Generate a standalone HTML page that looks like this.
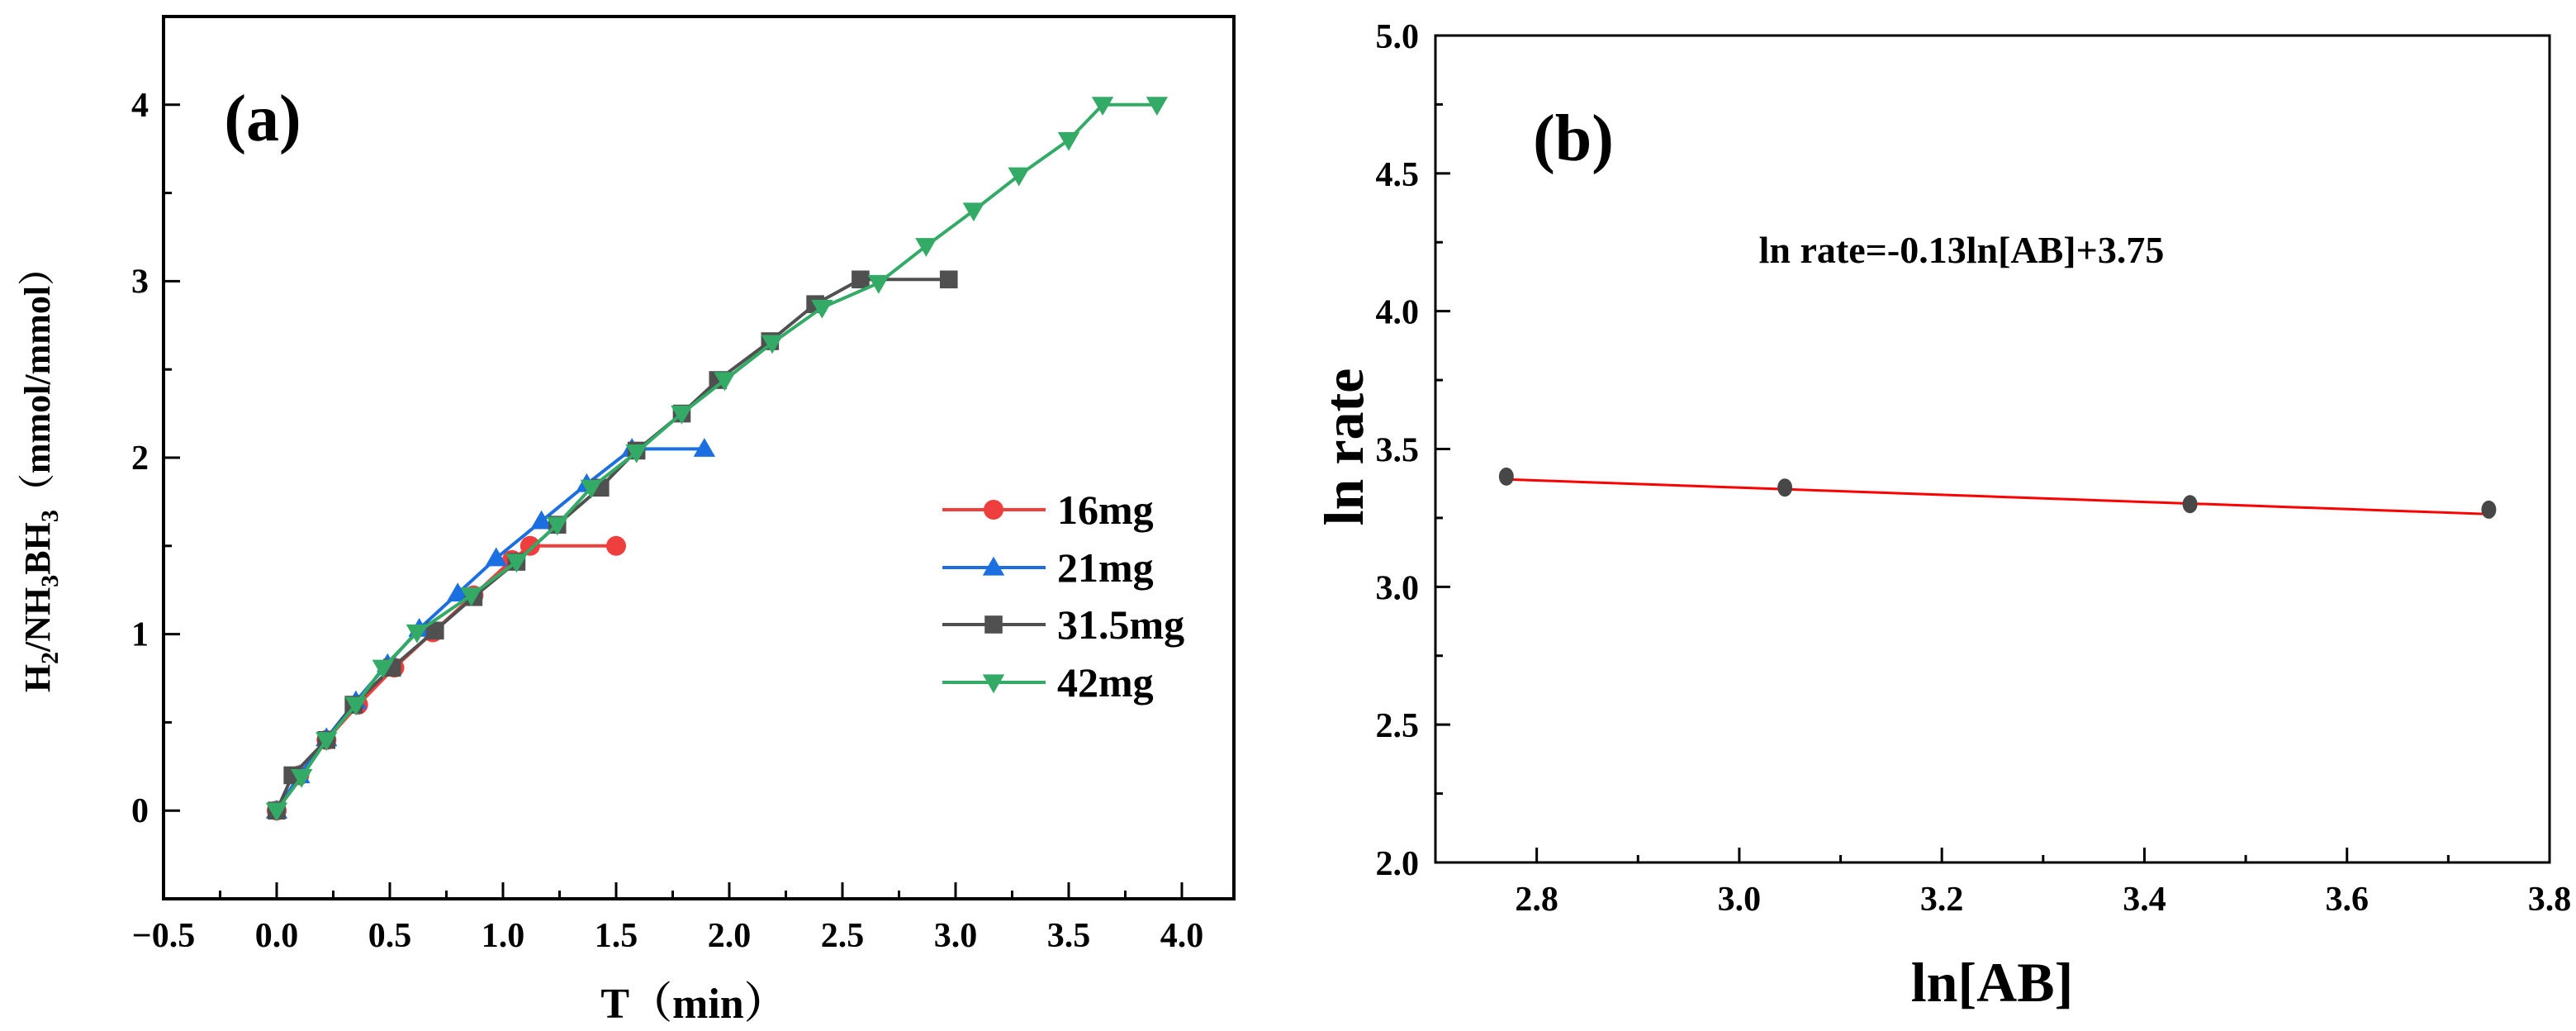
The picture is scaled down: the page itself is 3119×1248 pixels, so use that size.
<!DOCTYPE html>
<html><head><meta charset="utf-8"><style>
html,body{margin:0;padding:0;background:#fff;}
svg{display:block;}
text{font-family:"Liberation Serif","Noto Serif CJK SC",serif;font-weight:bold;fill:#000;}
</style></head><body>
<svg id="fig" width="3119" height="1248" viewBox="0 0 3119 1248" xmlns="http://www.w3.org/2000/svg"></svg>
<script>
// ---------- Panel (a) data ----------
const seriesNames = ["16mg","21mg","31.5mg","42mg"];
const seriesColors = ["#ef3e3e","#1c6fe0","#505050","#33aa66"];
const seriesMarkers = ["circle","up","square","down"];
const x16 = [0,0.10,0.22,0.36,0.52,0.69,0.87,1.04,1.12,1.50];
const y16 = [0,0.20,0.40,0.60,0.81,1.01,1.22,1.42,1.50,1.50];
const x21 = [0,0.10,0.22,0.35,0.49,0.63,0.80,0.97,1.17,1.37,1.57,1.89];
const y21 = [0,0.20,0.41,0.62,0.83,1.03,1.23,1.43,1.64,1.85,2.05,2.05];
const x315 = [0,0.07,0.22,0.34,0.51,0.70,0.87,1.06,1.24,1.43,1.59,1.79,1.95,2.18,2.38,2.58,2.97];
const y315 = [0,0.20,0.40,0.60,0.81,1.02,1.21,1.41,1.62,1.83,2.04,2.25,2.44,2.66,2.87,3.01,3.01];
const x42 = [0,0.11,0.22,0.35,0.47,0.62,0.86,1.06,1.24,1.39,1.59,1.79,1.98,2.19,2.41,2.66,2.87,3.08,3.28,3.50,3.65,3.89];
const y42 = [0,0.19,0.40,0.60,0.81,1.01,1.22,1.41,1.62,1.83,2.03,2.25,2.44,2.65,2.85,2.99,3.20,3.40,3.60,3.80,4.00,4.00];
const aXTicks = [-0.5,0,0.5,1,1.5,2,2.5,3,3.5,4];
const aXTickLabels = ["\u22120.5","0.0","0.5","1.0","1.5","2.0","2.5","3.0","3.5","4.0"];
const aYTicks = [0,1,2,3,4];
const aYTickLabels = ["0","1","2","3","4"];
// ---------- Panel (b) data ----------
const bX = [2.77,3.045,3.445,3.74];
const bY = [3.40,3.36,3.30,3.28];
const bSlope = -0.13, bIntercept = 3.75;
const bXTicks = [2.8,3.0,3.2,3.4,3.6,3.8];
const bXTickLabels = ["2.8","3.0","3.2","3.4","3.6","3.8"];
const bYTicks = [2.0,2.5,3.0,3.5,4.0,4.5,5.0];
const bYTickLabels = ["2.0","2.5","3.0","3.5","4.0","4.5","5.0"];

const NS="http://www.w3.org/2000/svg";
const svg=document.getElementById('fig');
function mk(tag,attrs,parent){const e=document.createElementNS(NS,tag);for(const k in attrs)e.setAttribute(k,attrs[k]);(parent||svg).appendChild(e);return e;}

// ---- Panel a axes ----
const aL=198,aR=1494,aT=20,aB=1088;
const ax0=-0.5,ax1=4.23,ay0=-0.5,ay1=4.5;
const axS=v=>aL+(v-ax0)/(ax1-ax0)*(aR-aL);
const ayS=v=>aB-(v-ay0)/(ay1-ay0)*(aB-aT);
const ga=mk('g',{});


const fa=mk('rect',{x:aL,y:aT,width:aR-aL,height:aB-aT,fill:'none',stroke:'#000','stroke-width':4},ga);


aXTicks.forEach((v,i)=>{
  const x=axS(v);
  const t=mk('line',{x1:x,x2:x,y1:aB,y2:aB-20,stroke:'#000','stroke-width':3},ga);
  
  
  if(i<aXTicks.length-1){const xm=axS(v+0.25);mk('line',{x1:xm,x2:xm,y1:aB,y2:aB-10,stroke:'#000','stroke-width':3},ga);}
  const tl=mk('text',{x:x,y:aB+58,'font-size':42,'text-anchor':'middle'},ga);
  tl.textContent=aXTickLabels[i];
  
  
});
aYTicks.forEach((v,i)=>{
  const y=ayS(v);
  const t=mk('line',{x1:aL,x2:aL+20,y1:y,y2:y,stroke:'#000','stroke-width':3},ga);
  
  
  const ym=ayS(v+0.5);mk('line',{x1:aL,x2:aL+10,y1:ym,y2:ym,stroke:'#000','stroke-width':3},ga);
  if(v===0){const yn=ayS(-0.5);}
  const tl=mk('text',{x:180,y:y+14,'font-size':42,'text-anchor':'end'},ga);
  tl.textContent=aYTickLabels[i];
  
  
});
function marker(type,cx,cy,r,color,parent){
  if(type==='circle')return mk('circle',{cx:cx,cy:cy,r:r,fill:color},parent);
  if(type==='square')return mk('rect',{x:cx-r*0.9,y:cy-r*0.9,width:r*1.8,height:r*1.8,fill:color},parent);
  if(type==='up')return mk('polygon',{points:`${cx},${cy-r*1.1} ${cx+r*1.1},${cy+r*0.8} ${cx-r*1.1},${cy+r*0.8}`,fill:color},parent);
  return mk('polygon',{points:`${cx},${cy+r*1.1} ${cx+r*1.1},${cy-r*0.8} ${cx-r*1.1},${cy-r*0.8}`,fill:color},parent);
}
const allX=[x16,x21,x315,x42], allY=[y16,y21,y315,y42];
allX.forEach((xs,s)=>{
  const g=mk('g',{},ga);
  
  
  const pts=xs.map((x,i)=>axS(x)+','+ayS(allY[s][i])).join(' ');
  mk('polyline',{points:pts,fill:'none',stroke:seriesColors[s],'stroke-width':4},g);
  xs.forEach((x,i)=>{
    const m=marker(seriesMarkers[s],axS(x),ayS(allY[s][i]),12,seriesColors[s],g);
    
    
  });
});
// legend
const legRows=[617,687,756,826];
seriesNames.forEach((n,s)=>{
  const g=mk('g',{},ga);
  
  
  mk('line',{x1:1141,x2:1266,y1:legRows[s],y2:legRows[s],stroke:seriesColors[s],'stroke-width':4},g);
  marker(seriesMarkers[s],1203,legRows[s],12,seriesColors[s],g);
  const t=mk('text',{x:1280,y:legRows[s]+17,'font-size':50},g);
  t.textContent=n;
});
const la=mk('text',{x:318,y:170,'font-size':80,'text-anchor':'middle'},ga);
la.textContent='(a)';


const axt=mk('text',{x:840,y:1232,'font-size':52,'text-anchor':'middle'},ga);
axt.textContent='T（min）';


const ayt=mk('text',{x:0,y:0,'font-size':44,'text-anchor':'middle',transform:'translate(60,570) rotate(-90)'},ga);
ayt.innerHTML='H<tspan font-size="30" dy="10">2</tspan><tspan dy="-10">/NH</tspan><tspan font-size="30" dy="10">3</tspan><tspan dy="-10">BH</tspan><tspan font-size="30" dy="10">3</tspan><tspan dy="-10">（mmol/mmol）</tspan>';



// ---- Panel b ----
const bL=1738,bR=3087,bT=43,bB=1044;
const bx0=2.7,bx1=3.8,by0=2.0,by1=5.0;
const bxS=v=>bL+(v-bx0)/(bx1-bx0)*(bR-bL);
const byS=v=>bB-(v-by0)/(by1-by0)*(bB-bT);
const gb=mk('g',{});


const fb=mk('rect',{x:bL,y:bT,width:bR-bL,height:bB-bT,fill:'none',stroke:'#000','stroke-width':3},gb);


bXTicks.forEach((v,i)=>{
  const x=bxS(v);
  mk('line',{x1:x,x2:x,y1:bB,y2:bB-18,stroke:'#000','stroke-width':3},gb);
  if(i<bXTicks.length-1){const xm=bxS(v+0.1);mk('line',{x1:xm,x2:xm,y1:bB,y2:bB-9,stroke:'#000','stroke-width':3},gb);}
  const tl=mk('text',{x:x,y:bB+58,'font-size':42,'text-anchor':'middle'},gb);
  tl.textContent=bXTickLabels[i];
  
  
});
bYTicks.forEach((v,i)=>{
  const y=byS(v);
  mk('line',{x1:bL,x2:bL+18,y1:y,y2:y,stroke:'#000','stroke-width':3},gb);
  if(i<bYTicks.length-1){const ym=byS(v+0.25);mk('line',{x1:bL,x2:bL+9,y1:ym,y2:ym,stroke:'#000','stroke-width':3},gb);}
  const tl=mk('text',{x:1718,y:y+15,'font-size':42,'text-anchor':'end'},gb);
  tl.textContent=bYTickLabels[i];
  
  
});
const fit=mk('line',{x1:bxS(bX[0]),x2:bxS(bX[bX.length-1]),y1:byS(bSlope*bX[0]+bIntercept),y2:byS(bSlope*bX[bX.length-1]+bIntercept),stroke:'#ff0000','stroke-width':3},gb);


bX.forEach((x,i)=>{
  const p=mk('ellipse',{cx:bxS(x),cy:byS(bY[i]),rx:9,ry:11,fill:'#474747'},gb);
  
  
});
const lb=mk('text',{x:1905,y:194,'font-size':80,'text-anchor':'middle'},gb);
lb.textContent='(b)';


const eq=mk('text',{x:2375,y:318,'font-size':46,'text-anchor':'middle'},gb);
eq.textContent='ln rate=-0.13ln[AB]+3.75';


const bxt=mk('text',{x:2412,y:1212,'font-size':68,'text-anchor':'middle'},gb);
bxt.textContent='ln[AB]';


const byt=mk('text',{x:0,y:0,'font-size':68,'text-anchor':'middle',transform:'translate(1650,541) rotate(-90)'},gb);
byt.textContent='ln rate';


</script>
</body></html>
